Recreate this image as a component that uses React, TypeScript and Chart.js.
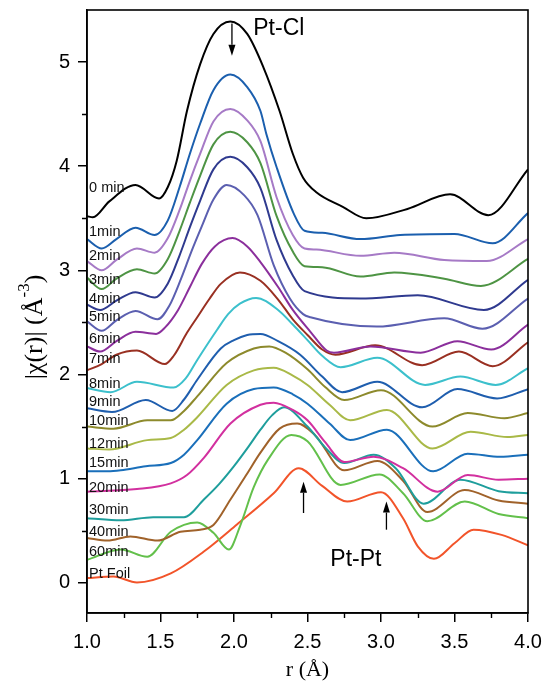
import React, { useEffect, useRef } from "react";
import { Chart, registerables } from "chart.js";
Chart.register(...registerables);

// ---- data: r (Å) and |chi(r)| per series ----
const r0 = [1.0, 1.04, 1.15, 1.33, 1.49, 1.55, 1.61, 1.68, 1.77, 1.86, 1.975, 2.09, 2.2, 2.31, 2.4, 2.47, 2.56, 2.74, 2.9, 3.18, 3.47, 3.73, 4.0];
const chi0 = [3.52, 3.51, 3.66, 3.82, 3.69, 3.8, 4.05, 4.53, 4.98, 5.27, 5.39, 5.27, 4.95, 4.53, 4.12, 3.89, 3.75, 3.61, 3.5, 3.59, 3.73, 3.53, 3.97];

const r1 = [1.0, 1.1, 1.2, 1.33, 1.46, 1.55, 1.63, 1.7, 1.77, 1.86, 1.975, 2.09, 2.18, 2.22, 2.29, 2.405, 2.48, 2.6, 2.86, 3.13, 3.5, 3.76, 4.0];
const chi1 = [3.3, 3.21, 3.3, 3.41, 3.34, 3.48, 3.8, 4.12, 4.41, 4.73, 4.88, 4.76, 4.53, 4.31, 3.99, 3.55, 3.38, 3.36, 3.3, 3.34, 3.35, 3.26, 3.55];

const r2 = [1.0, 1.1, 1.2, 1.34, 1.46, 1.55, 1.63, 1.7, 1.77, 1.86, 1.975, 2.09, 2.18, 2.29, 2.4, 2.48, 2.56, 2.86, 3.09, 3.43, 3.72, 4.0];
const chi2 = [3.09, 3.0, 3.1, 3.21, 3.17, 3.31, 3.58, 3.86, 4.12, 4.43, 4.55, 4.44, 4.24, 3.7, 3.34, 3.21, 3.2, 3.14, 3.17, 3.1, 3.09, 3.3];

const r3 = [1.0, 1.1, 1.2, 1.34, 1.46, 1.55, 1.63, 1.7, 1.77, 1.86, 1.975, 2.09, 2.18, 2.29, 2.4, 2.48, 2.6, 2.86, 3.09, 3.43, 3.68, 4.0];
const chi3 = [2.93, 2.82, 2.92, 3.01, 2.97, 3.11, 3.38, 3.65, 3.91, 4.21, 4.33, 4.23, 4.03, 3.52, 3.18, 3.04, 3.03, 2.94, 2.98, 2.92, 2.85, 3.11];

const r4 = [1.0, 1.09, 1.2, 1.33, 1.46, 1.55, 1.63, 1.7, 1.77, 1.86, 1.975, 2.09, 2.18, 2.29, 2.4, 2.48, 2.86, 3.25, 3.7, 4.0];
const chi4 = [2.67, 2.62, 2.71, 2.79, 2.74, 2.875, 3.145, 3.415, 3.67, 3.97, 4.09, 3.99, 3.79, 3.29, 2.95, 2.8, 2.73, 2.76, 2.62, 2.91];

const r5 = [1.0, 1.1, 1.2, 1.33, 1.48, 1.56, 1.64, 1.71, 1.78, 1.86, 1.95, 2.07, 2.16, 2.27, 2.38, 2.47, 2.52, 2.97, 3.43, 3.69, 4.0];
const chi5 = [2.51, 2.42, 2.52, 2.61, 2.53, 2.66, 2.92, 3.18, 3.42, 3.68, 3.82, 3.72, 3.53, 3.05, 2.73, 2.58, 2.55, 2.46, 2.54, 2.44, 2.73];

const r6 = [1.0, 1.09, 1.2, 1.33, 1.47, 1.53, 1.62, 1.7, 1.78, 1.87, 1.99, 2.09, 2.18, 2.3, 2.4, 2.52, 2.63, 2.68, 2.93, 3.27, 3.52, 3.75, 4.0];
const chi6 = [2.27, 2.22, 2.32, 2.41, 2.39, 2.45, 2.62, 2.84, 3.06, 3.23, 3.31, 3.23, 3.08, 2.84, 2.62, 2.41, 2.23, 2.21, 2.27, 2.21, 2.32, 2.24, 2.48];

const r7 = [1.0, 1.1, 1.2, 1.34, 1.53, 1.59, 1.68, 1.75, 1.83, 1.91, 2.04, 2.18, 2.3, 2.4, 2.5, 2.6, 2.69, 2.96, 3.28, 3.53, 3.76, 4.0];
const chi7 = [2.04, 2.1, 2.19, 2.23, 2.1, 2.18, 2.4, 2.55, 2.72, 2.87, 2.98, 2.9, 2.72, 2.53, 2.38, 2.24, 2.19, 2.28, 2.09, 2.22, 2.08, 2.31];

const r8 = [1.0, 1.16, 1.34, 1.59, 1.67, 1.75, 1.885, 1.96, 2.04, 2.15, 2.3, 2.4, 2.5, 2.6, 2.725, 2.975, 3.3, 3.54, 3.78, 4.0];
const chi8 = [1.87, 1.83, 1.93, 1.875, 1.96, 2.14, 2.43, 2.58, 2.68, 2.735, 2.62, 2.48, 2.33, 2.18, 2.07, 2.16, 1.9, 1.98, 1.9, 2.06];

const r9 = [1.0, 1.17, 1.4, 1.58, 1.66, 1.75, 1.91, 2.0, 2.09, 2.18, 2.3, 2.45, 2.6, 2.735, 2.975, 3.28, 3.52, 3.79, 4.0];
const chi9 = [1.675, 1.64, 1.755, 1.65, 1.76, 1.95, 2.25, 2.33, 2.38, 2.39, 2.32, 2.19, 1.98, 1.83, 1.93, 1.685, 1.86, 1.77, 1.86];

const r10 = [1.0, 1.18, 1.41, 1.57, 1.66, 1.75, 1.95, 2.135, 2.24, 2.35, 2.5, 2.62, 2.75, 3.0, 3.35, 3.59, 3.84, 4.0];
const chi10 = [1.5, 1.48, 1.56, 1.56, 1.65, 1.79, 2.11, 2.25, 2.27, 2.21, 2.05, 1.88, 1.755, 1.85, 1.5, 1.63, 1.58, 1.63];

const r12 = [1.0, 1.15, 1.41, 1.57, 1.66, 1.75, 1.95, 2.135, 2.27, 2.4, 2.5, 2.65, 2.79, 3.04, 3.35, 3.61, 3.86, 4.0];
const chi12 = [1.29, 1.28, 1.37, 1.39, 1.47, 1.59, 1.9, 2.04, 2.065, 1.99, 1.9, 1.71, 1.56, 1.66, 1.29, 1.45, 1.4, 1.42];

const r15 = [1.0, 1.14, 1.23, 1.4, 1.57, 1.66, 1.75, 1.95, 2.135, 2.27, 2.4, 2.5, 2.65, 2.79, 3.04, 3.355, 3.59, 3.81, 4.0];
const chi15 = [1.07, 1.07, 1.08, 1.12, 1.15, 1.23, 1.37, 1.72, 1.86, 1.875, 1.81, 1.72, 1.53, 1.37, 1.47, 1.07, 1.24, 1.21, 1.23];

const r20 = [1.0, 1.34, 1.57, 1.68, 1.795, 1.976, 2.18, 2.27, 2.4, 2.5, 2.62, 2.75, 2.95, 3.15, 3.385, 3.59, 3.8, 4.0];
const chi20 = [0.875, 0.9, 0.955, 1.035, 1.2, 1.53, 1.71, 1.73, 1.66, 1.56, 1.35, 1.16, 1.21, 1.1, 0.875, 1.035, 0.99, 1.0];

const r30 = [1.0, 1.23, 1.45, 1.66, 1.795, 1.9, 2.0, 2.1, 2.18, 2.26, 2.34, 2.5, 2.62, 2.75, 2.95, 3.1, 3.29, 3.54, 3.8, 4.0];
const chi30 = [0.62, 0.6, 0.63, 0.63, 0.8, 0.95, 1.12, 1.31, 1.47, 1.61, 1.685, 1.5, 1.3, 1.15, 1.23, 1.1, 0.76, 0.99, 0.88, 0.86];

const r40 = [1.0, 1.14, 1.295, 1.48, 1.635, 1.77, 1.86, 1.976, 2.09, 2.18, 2.31, 2.43, 2.55, 2.75, 2.975, 3.15, 3.315, 3.57, 3.8, 4.0];
const chi40 = [0.43, 0.405, 0.445, 0.405, 0.49, 0.51, 0.555, 0.8, 1.05, 1.25, 1.48, 1.53, 1.42, 1.08, 1.17, 0.98, 0.68, 0.89, 0.79, 0.76];

const r60 = [1.0, 1.23, 1.41, 1.57, 1.75, 1.86, 1.965, 2.04, 2.135, 2.23, 2.39, 2.5, 2.725, 2.99, 3.15, 3.315, 3.57, 3.8, 4.0];
const chi60 = [0.22, 0.32, 0.25, 0.49, 0.58, 0.48, 0.32, 0.54, 0.92, 1.18, 1.42, 1.36, 0.94, 1.04, 0.86, 0.59, 0.78, 0.66, 0.62];

const rFoil = [1.0, 1.18, 1.34, 1.57, 1.795, 2.02, 2.27, 2.44, 2.6, 2.77, 3.0, 3.15, 3.25, 3.36, 3.5, 3.63, 3.82, 4.0];
const chiFoil = [0.045, 0.06, 0.003, 0.09, 0.3, 0.56, 0.86, 1.1, 0.93, 0.78, 0.87, 0.62, 0.35, 0.23, 0.38, 0.51, 0.46, 0.36];

const seriesNames = ["0 min", "1min", "2min", "3min", "4min", "5min", "6min", "7min", "8min", "9min", "10min", "12min", "15min", "20min", "30min", "40min", "60min", "Pt Foil"];
const seriesR = [r0, r1, r2, r3, r4, r5, r6, r7, r8, r9, r10, r12, r15, r20, r30, r40, r60, rFoil];
const seriesChi = [chi0, chi1, chi2, chi3, chi4, chi5, chi6, chi7, chi8, chi9, chi10, chi12, chi15, chi20, chi30, chi40, chi60, chiFoil];
const seriesColors = ["#000000", "#1b5fae", "#a67ac6", "#4e9444", "#2f3a8f", "#5b5fb0", "#8b2f9c", "#993022", "#3cc0cc", "#1f5eae", "#8d8a2c", "#a9b947", "#1a6fba", "#d2309f", "#1e9e9c", "#a0622a", "#63c04b", "#f2542a"];
// y value (in |chi(r)| units) at which each series name is written
const nameAnchorY = [3.79, 3.37, 3.135, 2.905, 2.726, 2.55, 2.34, 2.15, 1.91, 1.735, 1.55, 1.335, 1.15, 0.914, 0.7, 0.49, 0.297, 0.089];

const xTickValues = [1.0, 1.5, 2.0, 2.5, 3.0, 3.5, 4.0];
const xMinorValues = [1.25, 1.75, 2.25, 2.75, 3.25, 3.75];
const yTickValues = [0, 1, 2, 3, 4, 5];
const yMinorValues = [0.5, 1.5, 2.5, 3.5, 4.5];

// annotations (data units)
const peakLabels = [
  { text: "Pt-Cl", x: 2.131, y: 5.32 },
  { text: "Pt-Pt", x: 2.655, y: 0.22 },
];
const arrows = [
  { x: 1.986, from: 5.37, to: 5.06 },
  { x: 2.473, from: 0.67, to: 0.97 },
  { x: 3.037, from: 0.51, to: 0.78 },
];

const SANS = '"Liberation Sans", Arial, sans-serif';
const SERIF = '"Liberation Serif", "Times New Roman", serif';

const decorPlugin = {
  id: "decor",
  afterDraw(chart: any) {
    const { ctx, chartArea, scales } = chart;
    const xs = scales.x;
    const ys = scales.y;
    ctx.save();
    // frame
    ctx.strokeStyle = "#000";
    ctx.lineWidth = 1.6;
    ctx.strokeRect(chartArea.left, chartArea.top, chartArea.right - chartArea.left, chartArea.bottom - chartArea.top);
    // minor ticks
    ctx.lineWidth = 1.4;
    ctx.beginPath();
    xMinorValues.forEach((v) => {
      const px = Math.round(xs.getPixelForValue(v)) + 0.5;
      ctx.moveTo(px, chartArea.bottom);
      ctx.lineTo(px, chartArea.bottom + 5);
    });
    yMinorValues.forEach((v) => {
      const py = Math.round(ys.getPixelForValue(v)) + 0.5;
      ctx.moveTo(chartArea.left, py);
      ctx.lineTo(chartArea.left - 5, py);
    });
    ctx.stroke();

    // series names
    ctx.fillStyle = "#111";
    ctx.font = `14.5px ${SANS}`;
    ctx.textAlign = "left";
    ctx.textBaseline = "middle";
    seriesNames.forEach((n, i) => {
      ctx.fillText(n, xs.getPixelForValue(1.014), ys.getPixelForValue(nameAnchorY[i]));
    });

    // peak labels
    ctx.font = `23px ${SANS}`;
    ctx.fillStyle = "#000";
    peakLabels.forEach((p) => {
      ctx.fillText(p.text, xs.getPixelForValue(p.x), ys.getPixelForValue(p.y));
    });

    // arrows
    arrows.forEach((a) => {
      const px = xs.getPixelForValue(a.x);
      const y1 = ys.getPixelForValue(a.from);
      const y2 = ys.getPixelForValue(a.to);
      const dir = y2 > y1 ? 1 : -1;
      const head = 11;
      ctx.strokeStyle = "#000";
      ctx.lineWidth = 1.3;
      ctx.beginPath();
      ctx.moveTo(px, y1);
      ctx.lineTo(px, y2 - dir * head);
      ctx.stroke();
      ctx.beginPath();
      ctx.moveTo(px, y2);
      ctx.lineTo(px - 3.5, y2 - dir * head);
      ctx.lineTo(px + 3.5, y2 - dir * head);
      ctx.closePath();
      ctx.fill();
    });

    // x title
    ctx.font = `22px ${SERIF}`;
    ctx.textAlign = "center";
    ctx.textBaseline = "middle";
    ctx.fillText("r (Å)", (chartArea.left + chartArea.right) / 2, 670);

    // y title with superscript
    const main = "|χ(r)| (Å";
    const sup = "-3";
    const tail = ")";
    const bigFont = `26px ${SERIF}`;
    const smallFont = `17px ${SERIF}`;
    ctx.font = bigFont;
    const wMain = ctx.measureText(main).width;
    const wTail = ctx.measureText(tail).width;
    ctx.font = smallFont;
    const wSup = ctx.measureText(sup).width;
    const total = wMain + wSup + wTail;
    ctx.translate(35, 327);
    ctx.rotate(-Math.PI / 2);
    ctx.textAlign = "left";
    ctx.textBaseline = "middle";
    let x0 = -total / 2;
    ctx.font = bigFont;
    ctx.fillText(main, x0, 0);
    x0 += wMain;
    ctx.font = smallFont;
    ctx.fillText(sup, x0, -10);
    x0 += wSup;
    ctx.font = bigFont;
    ctx.fillText(tail, x0, 0);
    ctx.restore();
  },
};

export default function App() {
  const ref = useRef<HTMLCanvasElement | null>(null);
  useEffect(() => {
    if (!ref.current) return;
    const datasets = seriesNames.map((name, i) => ({
      label: name,
      data: seriesR[i].map((r, j) => ({ x: r, y: seriesChi[i][j] })),
      borderColor: seriesColors[i],
      backgroundColor: seriesColors[i],
      borderWidth: 2,
      pointRadius: 0,
      fill: false,
      cubicInterpolationMode: "monotone" as const,
    }));
    const chart = new Chart(ref.current, {
      type: "line",
      data: { datasets },
      options: {
        animation: false,
        responsive: false,
        devicePixelRatio: 1,
        layout: { padding: { left: 0, right: 16, top: 10, bottom: 0 } },
        plugins: { legend: { display: false }, tooltip: { enabled: false } },
        events: [],
        scales: {
          x: {
            type: "linear",
            min: 1,
            max: 4,
            afterBuildTicks: (s: any) => {
              s.ticks = xTickValues.map((v) => ({ value: v }));
            },
            afterFit: (s: any) => {
              s.height = 69;
              s.paddingLeft = 0;
              s.paddingRight = 0;
            },
            grid: { display: true, drawOnChartArea: false, drawTicks: true, tickLength: 9, color: "#000", lineWidth: 1.5 },
            border: { display: true, color: "#000", width: 1.5 },
            ticks: {
              color: "#000",
              padding: 8,
              maxRotation: 0,
              font: { family: SANS, size: 20 },
              callback: (v: any) => Number(v).toFixed(1),
            },
          },
          y: {
            type: "linear",
            min: -0.29,
            max: 5.5,
            afterBuildTicks: (s: any) => {
              s.ticks = yTickValues.map((v) => ({ value: v }));
            },
            afterFit: (s: any) => {
              s.width = 87;
              s.paddingTop = 0;
              s.paddingBottom = 0;
            },
            grid: { display: true, drawOnChartArea: false, drawTicks: true, tickLength: 9, color: "#000", lineWidth: 1.5 },
            border: { display: true, color: "#000", width: 1.5 },
            ticks: {
              color: "#000",
              padding: 8,
              font: { family: SANS, size: 20 },
              callback: (v: any) => String(v),
            },
          },
        },
      },
      plugins: [decorPlugin],
    });
    return () => chart.destroy();
  }, []);
  return (
    <div style={{ position: "absolute", left: 0, top: 0, width: 544, height: 682, background: "#fff" }}>
      <canvas ref={ref} width={544} height={682} style={{ display: "block" }} />
    </div>
  );
}
